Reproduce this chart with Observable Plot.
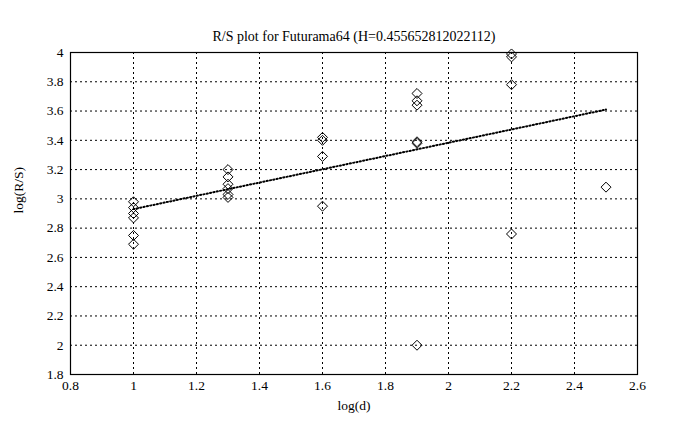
<!DOCTYPE html>
<html>
<head>
<meta charset="utf-8">
<script src="https://cdn.jsdelivr.net/npm/d3@7"></script>
<script src="https://cdn.jsdelivr.net/npm/@observablehq/plot@0.6"></script>
<style>
  body { margin: 0; background: #fff; }
  svg { font-family: "Liberation Serif", "DejaVu Serif", serif; }
</style>
</head>
<body>
<div id="chart"></div>
<script>
const title = "R/S plot for Futurama64 (H=0.455652812022112)";
const xLabel = "log(d)";
const yLabel = "log(R/S)";

const logD = [1, 1, 1, 1, 1, 1,
              1.3, 1.3, 1.3, 1.3, 1.3, 1.3,
              1.6, 1.6, 1.6, 1.6,
              1.9, 1.9, 1.9, 1.9, 1.9, 1.9,
              2.2, 2.2, 2.2, 2.2,
              2.5];
const logRS = [2.98, 2.94, 2.90, 2.87, 2.75, 2.69,
               3.20, 3.15, 3.10, 3.07, 3.03, 3.01,
               3.42, 3.40, 3.29, 2.95,
               3.72, 3.67, 3.64, 3.39, 3.38, 2.00,
               3.99, 3.97, 3.78, 2.76,
               3.08];

const fitX = [1, 2.5];
const fitY = [2.93, 3.61];

const xTicks = [0.8, 1, 1.2, 1.4, 1.6, 1.8, 2, 2.2, 2.4, 2.6];
const yTicks = [1.8, 2, 2.2, 2.4, 2.6, 2.8, 3, 3.2, 3.4, 3.6, 3.8, 4];

const points = logD.map((d, i) => ({x: d, y: logRS[i]}));
const fit = fitX.map((d, i) => ({x: d, y: fitY[i]}));

const chart = Plot.plot({
  width: 686,
  height: 430,
  marginLeft: 70,
  marginRight: 49,
  marginTop: 52,
  marginBottom: 56,
  style: {fontFamily: "Liberation Serif, serif", fontSize: "13px", color: "#000", background: "#fff"},
  x: {domain: [0.8, 2.6], ticks: xTicks, tickFormat: d => String(d), label: null},
  y: {domain: [1.8, 4], ticks: yTicks, tickFormat: d => String(d), label: null},
  marks: [
    Plot.ruleX(xTicks.slice(1, -1), {stroke: "#000", strokeDasharray: "2,3", strokeWidth: 1}),
    Plot.ruleY(yTicks.slice(1, -1), {stroke: "#000", strokeDasharray: "2,3", strokeWidth: 1}),
    Plot.axisX({ticks: xTicks, tickSize: 0, tickPadding: 6, tickFormat: d => String(d), label: null, fontSize: 13.5}),
    Plot.axisY({ticks: yTicks, tickSize: 0, tickPadding: 7, tickFormat: d => String(d), label: null, fontSize: 13.5}),
    Plot.frame({stroke: "#000", strokeWidth: 1.2}),
    Plot.line(fit, {x: "x", y: "y", stroke: "#000", strokeWidth: 2, strokeDasharray: "1.2,2.2"}),
    Plot.dot(points, {x: "x", y: "y", symbol: "diamond2", r: 4.5, stroke: "#000", strokeWidth: 1, fill: "none"}),
    Plot.text([title], {frameAnchor: "top", dy: -21, fontSize: 14, fill: "#000"}),
    Plot.text([xLabel], {frameAnchor: "bottom", dy: 35, fontSize: 13.5, fill: "#000"}),
    Plot.text([yLabel], {frameAnchor: "left", dx: -52, rotate: -90, fontSize: 13.5, fill: "#000"})
  ]
});
document.getElementById("chart").appendChild(chart);
</script>
</body>
</html>
